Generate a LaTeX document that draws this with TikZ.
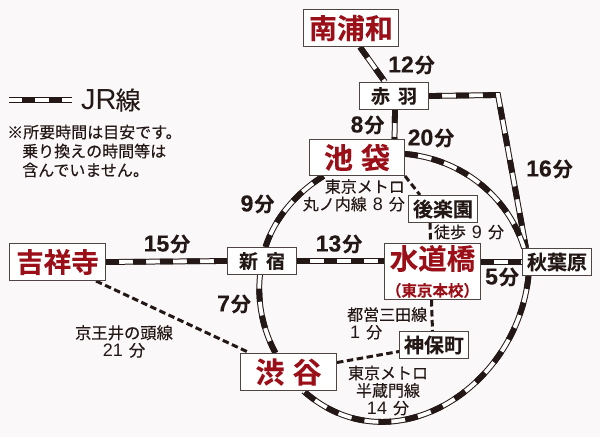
\documentclass[tikz,border=0pt]{standalone}
\usepackage{fontspec}
\usetikzlibrary{backgrounds}
\setmainfont{Noto Sans CJK JP}
\newfontfamily\cjkb[FakeBold=0.1]{Noto Sans CJK JP Bold}
\newfontfamily\cjkm[FakeBold=0.2]{Noto Sans CJK JP}
\newfontfamily\lat{Liberation Sans}
\newfontfamily\latb[FakeBold=0.3]{Liberation Sans Bold}
\definecolor{bgc}{HTML}{FBF8FA}
\definecolor{ink}{HTML}{231815}
\definecolor{redc}{HTML}{9B1018}
\newcommand{\tmn}[1]{{\latb\fontsize{23}{23}\selectfont #1}\hspace{1pt}分}
\newcommand{\lnum}[1]{{\lat\fontsize{18}{18}\selectfont #1}}
\tikzset{
  x=1pt,y=-1pt,
  mainbox/.style={draw=ink!80,line width=1pt,fill=white,text=redc,inner sep=0pt,anchor=north west,align=center},
  subbox/.style={draw=ink!80,line width=1pt,fill=white,text=ink,inner sep=0pt,anchor=north west,align=center,minimum width=69pt,minimum height=27pt},
  lbl/.style={text=ink,inner sep=0pt,align=center,font=\cjkm\fontsize{16}{18}\selectfont},
  tm/.style={text=ink,inner sep=0pt,font=\cjkb\fontsize{20}{22}\selectfont},
  dashline/.style={draw=ink,line width=3pt,dash pattern=on 6.5pt off 3.5pt},
  rail/.style={preaction={draw=ink,line width=5.8pt},preaction={draw=white,line width=3.8pt},draw=ink,line width=5.8pt,dash pattern=on 13pt off 14pt}
}
\begin{document}
\begin{tikzpicture}
\useasboundingbox (0,0) rectangle (600,437);
\begin{pgfonlayer}{background}
\fill[bgc] (0,0) rectangle (600,437);
\end{pgfonlayer}
% stations
\node[mainbox,minimum width=95pt,minimum height=37pt,font=\cjkb\fontsize{28}{28}\selectfont] (ura) at (303,9) {南浦和};
\node[subbox,font=\cjkb\fontsize{19}{19}\selectfont] (aka) at (359,82) {赤\hspace{8pt}羽};
\node[mainbox,minimum width=95pt,minimum height=36pt,font=\cjkb\fontsize{29}{29}\selectfont] (ike) at (309,139) {池\hspace{8pt}袋};
\node[subbox,font=\cjkb\fontsize{20}{20}\selectfont] (kor) at (408,195) {後楽園};
\node[mainbox,minimum width=96pt,minimum height=37pt,font=\cjkb\fontsize{27.5}{28}\selectfont] (kic) at (9,243) {吉祥寺};
\node[subbox,font=\cjkb\fontsize{19}{19}\selectfont] (shj) at (227,247) {新\hspace{8pt}宿};
\node[mainbox,minimum width=96pt,minimum height=37pt,font=\cjkb\fontsize{29}{29}\selectfont] (shb) at (240,353) {渋\hspace{8pt}谷};
\node[mainbox,minimum width=96pt,minimum height=56pt,font=\cjkb\fontsize{28.5}{28}\selectfont] (sui) at (384,243) {水道橋\\[-1pt]{\fontsize{15.5}{15}\selectfont （東京本校）}};
\node[subbox,font=\cjkb\fontsize{20}{20}\selectfont] (aki) at (522,248) {秋葉原};
\node[subbox,font=\cjkb\fontsize{20}{20}\selectfont] (jim) at (399,331) {神保町};
\coordinate (lega) at (9,100);
\coordinate (legb) at (72,100);
\coordinate (corner) at (498,95);
\begin{pgfonlayer}{background}
% JR straight lines
\draw[rail,dash phase=14pt] (lega) -- (legb);
\draw[rail] ([xshift=9pt]ura.south) -- ([xshift=-9pt]aka.north);
\draw[rail] (aka.east) -- (corner) -- ([xshift=-31pt]aki.north);
\draw[rail] ([xshift=1pt]aka.south) -- ([xshift=37.5pt]ike.north);
\draw[rail] (kic.east) -- (shj.west);
\draw[rail] (shj.east) -- (shj.east -| sui.west);
\draw[rail] (aki.west -| sui.east) -- (aki.west);
% ring
\draw[rail] ([yshift=3.6pt]ike.east) to[out=-5,in=107,looseness=0.93] ([xshift=-33pt]aki.north);
\draw[rail] ([xshift=-28.5pt]aki.south) to[out=-96,in=-41.7,looseness=1.168] ([xshift=15pt]shb.south);
\draw[rail] ([xshift=-13pt]shb.north) to[out=118.6,in=264,looseness=0.87] ([xshift=-2pt]shj.south);
\draw[rail] ([xshift=3.5pt]shj.north) to[out=72.4,in=212,looseness=0.87] ([xshift=-33.5pt]ike.south);
% dashed
\draw[dashline] ([xshift=-10pt]kic.south east) -- ([xshift=10pt]shb.north west);
\draw[dashline] ([yshift=9.5pt]shb.east) -- ([yshift=-6.5pt]jim.west);
\draw[dashline] ([xshift=-1pt]sui.south) -- (jim.north -| sui.south);
\draw[dashline] ([xshift=-13pt]kor.south) -- ([xshift=-2pt]sui.north);
\draw[dashline] (ike.south east) -- ([xshift=12pt]kor.north west);
\end{pgfonlayer}
% legend
\node[text=ink,inner sep=0pt,anchor=west] (jr) at (81,100) {\lat\fontsize{29}{29}\selectfont JR\hspace{-1pt}\cjkm\fontsize{25}{25}\selectfont 線};
\node[lbl,anchor=north west,align=left,font=\cjkm\fontsize{16}{19}\selectfont] (note) at (7,124.5) {※所要時間は目安です。\\\hspace{15pt}乗り換えの時間等は\\\hspace{15pt}含んでいません。};
% times
\node[tm] (t12) at (411.5,65) {\tmn{12}};
\node[tm] (t8) at (367.5,125) {\tmn{8}};
\node[tm] (t20) at (431,138) {\tmn{20}};
\node[tm] (t16) at (549.5,169) {\tmn{16}};
\node[tm] (t9) at (257.5,204) {\tmn{9}};
\node[tm] (t15) at (167,244) {\tmn{15}};
\node[tm] (t13) at (339,244) {\tmn{13}};
\node[tm] (t5) at (502,277) {\tmn{5}};
\node[tm] (t7) at (234,304) {\tmn{7}};
% line labels
\node[lbl,align=right,anchor=north east] (l1) at (405,179) {東京メトロ\\[-0.5pt]丸ノ内線\hspace{6pt}\lnum{8}\hspace{6pt}分};
\node[lbl] (l2) at (469,232) {徒歩\hspace{6pt}\lnum{9}\hspace{6pt}分};
\node[lbl,align=left,anchor=north west] (l3) at (347,307) {都営三田線\\[-0.5pt]\hspace{3pt}\lnum{1}\hspace{6pt}分};
\node[lbl] (l4) at (388,390.5) {東京メトロ\\[-0.5pt]半蔵門線\\[-0.5pt]\lnum{14}\hspace{6pt}分};
\node[lbl,font=\cjkm\fontsize{16.3}{18}\selectfont] (l5) at (124,341.5) {京王井の頭線\\[-0.5pt]\lnum{21}\hspace{6pt}分};
\end{tikzpicture}
\end{document}
